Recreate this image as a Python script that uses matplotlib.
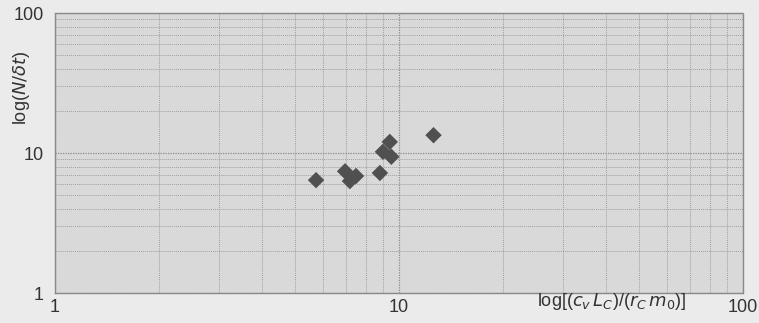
import matplotlib
matplotlib.use("Agg")
import matplotlib.pyplot as plt
from matplotlib.ticker import LogLocator, NullFormatter, FixedLocator, FixedFormatter

x_vals = [5.74, 6.97, 7.5, 7.2, 8.8, 9.4, 8.98, 9.5, 12.6]
y_vals = [6.4, 7.4, 6.85, 6.3, 7.2, 12.0, 10.2, 9.4, 13.4]
tick_vals = [1, 10, 100]
tick_labels = ["1", "10", "100"]

plt.rcParams['font.family'] = ['Liberation Sans', 'DejaVu Sans']

fig = plt.figure(figsize=(7.59, 3.23), dpi=100, facecolor='#ebebeb')
ax = fig.add_axes([55/759, 1-293/323, (743-55)/759, (293-13)/323])
ax.set_facecolor('#d9d9d9')
ax.set_xscale('log')
ax.set_yscale('log')
ax.set_xlim(1, 100)
ax.set_ylim(1, 100)

ax.scatter(x_vals, y_vals, marker='D', s=70, color='#505050', edgecolors='none', zorder=3)

ax.xaxis.set_major_locator(FixedLocator(tick_vals))
ax.xaxis.set_major_formatter(FixedFormatter(tick_labels))
ax.yaxis.set_major_locator(FixedLocator(tick_vals))
ax.yaxis.set_major_formatter(FixedFormatter(tick_labels))
ax.xaxis.set_minor_locator(LogLocator(base=10, subs=range(2, 10)))
ax.yaxis.set_minor_locator(LogLocator(base=10, subs=range(2, 10)))
ax.xaxis.set_minor_formatter(NullFormatter())
ax.yaxis.set_minor_formatter(NullFormatter())

ax.grid(True, which='major', color='#8a8a8a', linestyle=(0, (1, 1)), linewidth=0.9)
ax.grid(True, which='minor', color='#a0a0a0', linestyle=(0, (1, 1)), linewidth=0.7)

ax.tick_params(which='both', length=0, labelsize=13, colors='#333333')
ax.tick_params(axis='x', pad=4)
ax.tick_params(axis='y', pad=8)
for s in ax.spines.values():
    s.set_color('#8a8a8a')
    s.set_linestyle((0, (1, 1)))
    s.set_linewidth(1.0)

fig.text(612/759, 1-301/323, r'log[($c_v\,L_C$)/($r_C\,m_0$)]', ha='center', va='center',
         fontsize=13, color='#333333')
fig.text(22/759, 1-88/323, r'log($N/\delta t$)', ha='center', va='center', rotation=90,
         fontsize=13, color='#333333')

fig.savefig('out.png', dpi=100, facecolor=fig.get_facecolor())
